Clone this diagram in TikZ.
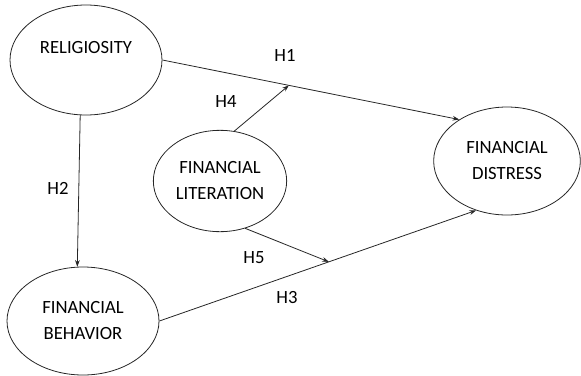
\documentclass[tikz,border=0pt]{standalone}
\usepackage{fontspec}
\setmainfont{Carlito}
\usepackage{tikz}
\usetikzlibrary{arrows.meta, positioning, shapes.geometric, calc}

\begin{document}
\begin{tikzpicture}[
    x=0.75pt, y=-0.75pt,
    construct/.style={ellipse, draw=black!85, line width=0.6pt, inner sep=0pt,
                      align=center, font=\fontsize{14}{19.5}\selectfont},
    hyp/.style={-{Stealth[length=5pt, width=3.5pt]}, line width=0.6pt, draw=black!85},
    hyplabel/.style={font=\fontsize{14}{17}\selectfont}
]
\useasboundingbox (0,0) rectangle (581,375);

\node[construct, minimum width=114pt, minimum height=82.5pt] (Rel) at (86,60) {RELIGIOSITY\\~};
\node[construct, minimum width=100pt, minimum height=76pt] (Lit) at (220,181) {FINANCIAL\\LITERATION};
\node[construct, minimum width=110pt, minimum height=81pt] (Dis) at (507,161) {FINANCIAL\\DISTRESS};
\node[construct, minimum width=114pt, minimum height=81pt] (Beh) at (83,321) {FINANCIAL\\BEHAVIOR};

\coordinate (H4end) at ($(Rel.east)!0.426!(Dis.139)$);
\coordinate (H5end) at ($(Beh.east)!0.535!(Dis.238)$);

\draw[hyp] (Rel.east) -- (Dis.139);
\draw[hyp] (Rel.264) -- (Beh.96);
\draw[hyp] (Beh.east) -- (Dis.238);
\draw[hyp] (Lit.74) -- (H4end);
\draw[hyp] (Lit.298) -- (H5end);

\node[hyplabel] (H1) at (285,55) {H1};
\node[hyplabel] (H2) at (58,188) {H2};
\node[hyplabel] (H3) at (287,297) {H3};
\node[hyplabel] (H4) at (226,102) {H4};
\node[hyplabel] (H5) at (254,258) {H5};

\end{tikzpicture}
\end{document}
